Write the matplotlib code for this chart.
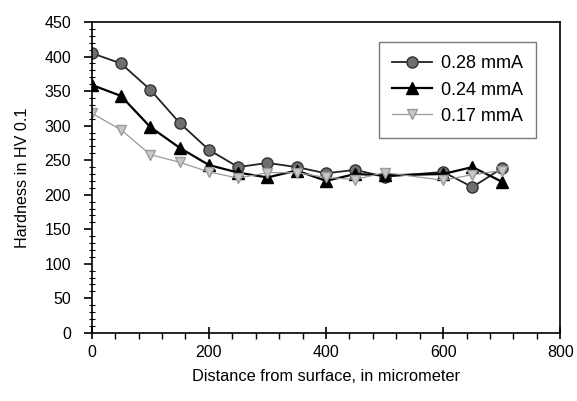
import matplotlib
matplotlib.use("Agg")
from matplotlib import pyplot as plt
from matplotlib.ticker import MultipleLocator

plt.rcParams['font.family'] = ['Liberation Sans', 'DejaVu Sans']

# distance from surface (micrometer)
dist = [0, 50, 100, 150, 200, 250, 300, 350, 400, 450, 500, 600, 650, 700]

# hardness for each current
hv_028 = [405, 390, 352, 304, 265, 240, 246, 240, 231, 236, 226, 233, 211, 238]
hv_024 = [359, 343, 298, 268, 243, 232, 225, 235, 220, 230, 228, 230, 240, 219]
hv_017 = [318, 294, 258, 247, 233, 224, 232, 232, 225, 222, 232, 221, 229, 235]

labels = ["0.28 mmA", "0.24 mmA", "0.17 mmA"]


def main():
    fig = plt.figure(figsize=(5.77, 4.01), dpi=100)
    ax = fig.add_axes([0.159, 0.170, 0.812, 0.775])

    ax.plot(dist, hv_028, color="#222222", lw=1.3, marker="o", ms=8,
            mfc="#6e6e6e", mec="#333333", label=labels[0])
    ax.plot(dist, hv_024, color="black", lw=1.6, marker="^", ms=8,
            mfc="black", mec="black", label=labels[1])
    ax.plot(dist, hv_017, color="#9a9a9a", lw=0.9, marker="v", ms=7,
            mfc="#c8c8c8", mec="#9a9a9a", label=labels[2])

    ax.set_xlim(0, 800)
    ax.set_ylim(0, 450)
    ax.xaxis.set_major_locator(MultipleLocator(200))
    ax.xaxis.set_minor_locator(MultipleLocator(40))
    ax.yaxis.set_major_locator(MultipleLocator(50))
    ax.yaxis.set_minor_locator(MultipleLocator(10))
    ax.tick_params(axis="x", which="major", direction="inout", length=8, width=1.2, labelsize=11.5, pad=5)
    ax.tick_params(axis="x", which="minor", direction="out", length=4, width=1.0)
    ax.tick_params(axis="y", which="major", direction="out", length=6, width=1.2, labelsize=11.5, pad=9)
    ax.tick_params(axis="y", which="minor", direction="inout", length=5, width=0.8)
    for s in ax.spines.values():
        s.set_linewidth(1.2)

    ax.set_xlabel("Distance from surface, in micrometer", fontsize=11.8, labelpad=6)
    ax.set_ylabel("Hardness in HV 0.1", fontsize=11.6, labelpad=10)

    leg = ax.legend(loc="upper right", bbox_to_anchor=(0.949, 0.936), borderaxespad=0,
                    fontsize=13, frameon=True, fancybox=False, edgecolor="#555555",
                    handlelength=2.2, handletextpad=0.5, borderpad=0.75, labelspacing=0.5)
    leg.get_frame().set_linewidth(1.0)

    fig.savefig("out.png", dpi=100)


if __name__ == "__main__":
    main()
